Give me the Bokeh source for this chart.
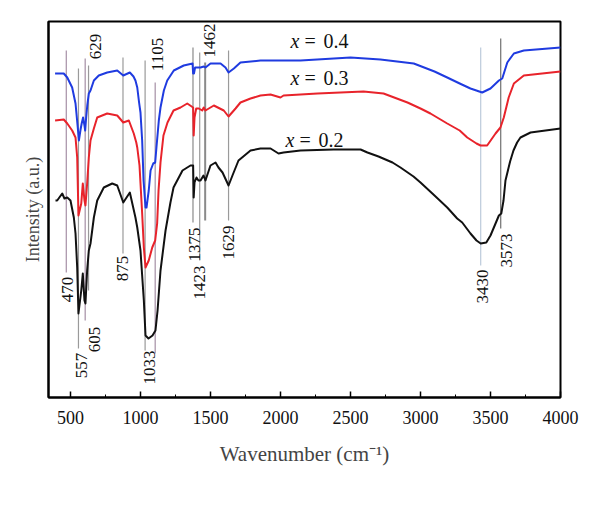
import numpy as np
from bokeh.plotting import figure
from bokeh.models import FixedTicker
from bokeh.embed import file_html
from bokeh.resources import INLINE
from bokeh.core.properties import value

# ---- spectra (wavenumber cm^-1, intensity a.u.) ----
wn_02 = [393, 405, 441, 457, 477, 500, 524, 536, 548, 557, 577, 588, 600, 607, 619, 631, 643, 667, 691,
         738, 798, 834, 877, 924, 964, 977, 1000, 1024, 1036, 1057, 1086, 1107, 1122, 1143, 1179, 1214,
         1236, 1300, 1357, 1376, 1380, 1386, 1400, 1414, 1429, 1450, 1464, 1500, 1536, 1557, 1586, 1629,
         1657, 1700, 1786, 1857, 1929, 1986, 2022, 2143, 2379, 2572, 2621, 2700, 2800, 2857, 2950, 3000,
         3100, 3191, 3262, 3298, 3357, 3400, 3430, 3470, 3500, 3530, 3560, 3577, 3593, 3607, 3640, 3664,
         3690, 3714, 3786, 4000]
int_02 = [197, 197, 204, 199, 200, 197, 180, 164, 130, 84, 107, 124, 97, 94, 127, 147, 154, 180, 197,
          210, 214, 212, 195, 205, 180, 170, 147, 97, 62, 59, 62, 67, 87, 127, 167, 195,
          210, 227, 232, 232, 200, 215, 220, 217, 217, 222, 217, 232, 235, 230, 225, 212,
          222, 237, 247, 249, 249, 244, 245, 247, 248, 248, 245, 241, 235, 230, 221, 215,
          202, 190, 179, 175, 164, 157, 154, 155, 162, 172, 182, 184, 197, 217, 236, 247,
          255, 260, 265, 269]

wn_03 = [390, 452, 477, 512, 536, 548, 557, 577, 588, 600, 607, 619, 631, 643, 667, 691, 762, 834, 877,
         917, 952, 970, 977, 993, 1012, 1024, 1036, 1059, 1084, 1105, 1119, 1129, 1143, 1164, 1193, 1236,
         1286, 1334, 1376, 1380, 1386, 1398, 1417, 1441, 1452, 1464, 1524, 1595, 1629, 1679, 1714, 1786,
         1857, 1929, 2000, 2022, 2264, 2593, 2736, 2907, 3000, 3071, 3191, 3280, 3334, 3400, 3429, 3476,
         3536, 3571, 3595, 3630, 3667, 3738, 4000]
int_03 = [277, 278, 274, 267, 260, 240, 182, 194, 214, 197, 192, 214, 240, 257, 269, 280, 284, 282, 275,
          277, 264, 255, 250, 232, 184, 150, 130, 137, 150, 157, 174, 207, 235, 262, 275, 287,
          290, 294, 290, 262, 280, 289, 289, 287, 290, 287, 292, 287, 281, 289, 295, 299,
          302, 303, 300, 302, 304, 306, 304, 295, 289, 284, 274, 267, 260, 254, 252, 252,
          264, 270, 280, 300, 314, 322, 326]

wn_04 = [390, 452, 477, 512, 536, 552, 560, 572, 580, 590, 600, 605, 612, 620, 631, 643, 667, 702, 762,
         834, 877, 924, 950, 964, 977, 990, 1000, 1012, 1022, 1036, 1043, 1059, 1072, 1091, 1105, 1114,
         1131, 1143, 1167, 1191, 1238, 1309, 1372, 1376, 1382, 1390, 1429, 1452, 1464, 1500, 1572, 1607,
         1629, 1667, 1714, 1857, 2143, 2500, 2714, 2952, 3100, 3191, 3280, 3357, 3441, 3500, 3560, 3584,
         3620, 3667, 3738, 4000]
int_04 = [324, 324, 320, 310, 294, 270, 257, 268, 274, 280, 272, 267, 280, 292, 304, 307, 317, 322, 325,
          327, 322, 325, 321, 317, 310, 295, 285, 257, 217, 190, 190, 207, 227, 234, 235, 250,
          277, 290, 307, 317, 327, 332, 334, 324, 324, 330, 330, 331, 330, 334, 334, 330,
          325, 329, 335, 337, 337, 340, 338, 334, 326, 320, 314, 309, 305, 309, 317, 319,
          335, 344, 347, 350]

series_names = ["x = 0.2", "x = 0.3", "x = 0.4"]

# ---- assigned bands ----
peaks = [470, 557, 605, 629, 875, 1033, 1105, 1375, 1423, 1462, 1629, 3430, 3573]
peak_labels = [str(v) for v in peaks]

# ---- figure ----
SERIF = "Liberation Serif"
p = figure(frame_width=512, frame_height=376, x_range=(343, 4000), y_range=(0, 376),
           output_backend="svg", toolbar_location=None,
           min_border_left=48, min_border_right=32, min_border_top=21, min_border_bottom=99)
p.background_fill_color = "white"
p.border_fill_color = "white"
p.grid.visible = False
p.outline_line_color = "black"
p.outline_line_width = 2
p.outline_line_alpha = 1

# peak marker lines (drawn under the spectra)
line_cols = ["#a58fa5", "#9a9a9a", "#a58fa5", "#9a9a9a", "#9a9a9a", "#9a9a9a", "#a58fa5",
             "#8a8a8a", "#9a9a9a", "#8a8a8a", "#9a9a9a", "#bccadb", "#707070"]
line_top = [347, 329, 339, 332, 340, 337, 315, 350, 345, 335, 347, 350, 359]
line_bot = [125, 49, 77, 107, 144, 47, 44, 175, 137, 177, 177, 132, 169]
line_w = [1.2] * 13
line_w[9] = 2
p.segment(x0=peaks, y0=line_bot, x1=peaks, y1=line_top, line_color=line_cols, line_width=line_w)

# spectra
p.line(wn_02, int_02, line_color="#111111", line_width=2, line_join="round")
p.line(wn_03, int_03, line_color="#e8232b", line_width=2, line_join="round")
p.line(wn_04, int_04, line_color="#1f3be0", line_width=2, line_join="round")

# band labels
lab_y = [108, 32, 58, 351, 129, 30, 343, 153, 115, 357, 155, 111, 147]
lab_dx = [1, 3, 9, 7, 0, 4, 2, 2, 0, 4, 0, 2, 6]
for xv, yv, dx, t in zip(peaks, lab_y, lab_dx, peak_labels):
    p.text(x=[xv], y=[yv], text=[t], angle=np.pi / 2, x_offset=dx, text_align="center",
           text_baseline="middle", text_font=value(SERIF), text_font_size="17px", text_color="#111111")

# series labels (italic x)
ser_x = [2036, 2072, 2072]
ser_y = [258, 320, 357]
for xv, yv, name in zip(ser_x, ser_y, series_names):
    var, eq, num = name.split(" ")
    p.text(x=[xv], y=[yv], text=[var], text_align="left", text_baseline="middle",
           text_font=value(SERIF), text_font_style="italic", text_font_size="20px", text_color="#111111")
    p.text(x=[xv], y=[yv], text=[eq], x_offset=14, text_align="left", text_baseline="middle",
           text_font=value(SERIF), text_font_size="20px", text_color="#111111")
    p.text(x=[xv], y=[yv], text=[num], x_offset=33, text_align="left", text_baseline="middle",
           text_font=value(SERIF), text_font_size="20px", text_color="#111111")

# axes
xticks = [500, 1000, 1500, 2000, 2500, 3000, 3500, 4000]
p.xaxis.ticker = FixedTicker(ticks=xticks, minor_ticks=[750, 1250, 1750, 2250, 2750, 3250, 3750])
p.xaxis.axis_label = "Wavenumber (cm\u207b\u00b9)"
p.xaxis.axis_line_width = 2
p.xaxis.major_tick_in = 6
p.xaxis.major_tick_out = 0
p.xaxis.minor_tick_in = 3
p.xaxis.minor_tick_out = 0
p.xaxis.major_tick_line_width = 1.5
p.xaxis.major_label_standoff = 13
p.xaxis.major_label_text_font = SERIF
p.xaxis.major_label_text_font_size = "18px"
p.xaxis.major_label_text_color = "#111111"
p.xaxis.axis_label_text_font = SERIF
p.xaxis.axis_label_text_font_size = "21px"
p.xaxis.axis_label_text_font_style = "normal"
p.xaxis.axis_label_standoff = 15

p.yaxis.ticker = FixedTicker(ticks=[])
p.yaxis.axis_label = "Intensity (a.u.)"
p.yaxis.axis_line_width = 2
p.yaxis.major_tick_line_color = None
p.yaxis.minor_tick_line_color = None
p.yaxis.axis_label_text_font = SERIF
p.yaxis.axis_label_text_font_size = "18px"
p.yaxis.axis_label_text_font_style = "normal"
p.yaxis.axis_label_standoff = 6

open("out.html", "w").write(file_html(p, INLINE))
